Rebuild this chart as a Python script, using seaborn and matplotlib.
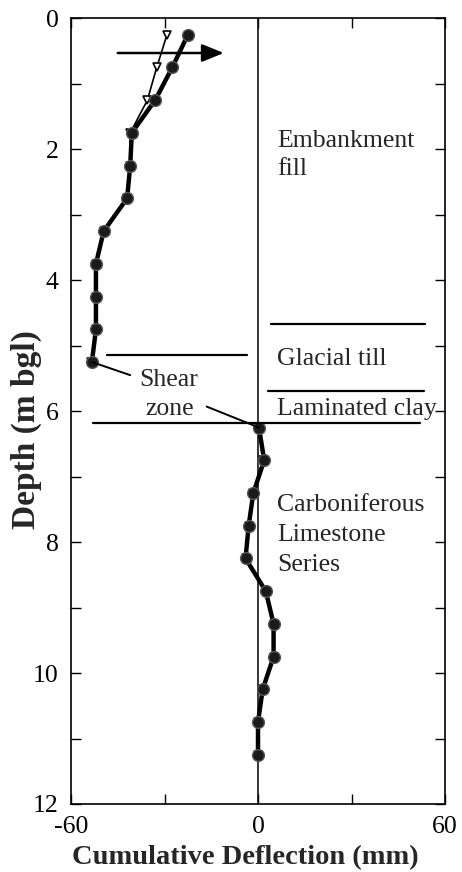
import numpy as np
import pandas as pd
import matplotlib
matplotlib.use("Agg")
import matplotlib.pyplot as plt
import seaborn as sns
from matplotlib.ticker import MultipleLocator

# Inclinometer readings: depth (m bgl) and cumulative deflection (mm)
depth = [0.25, 0.75, 1.25, 1.75, 2.25, 2.75, 3.25, 3.75, 4.25, 4.75, 5.25,
         6.25, 6.75, 7.25, 7.75, 8.25, 8.75, 9.25, 9.75, 10.25, 10.75, 11.25]
# segment 0 = above shear zone, 1 = below
segment = [0] * 11 + [1] * 11
deflection_early = [-29.2, -32.5, -35.5, -41.0, -41.0, -42.0, -49.5, -52.0, -52.0, -52.0, -53.5,
                    0.3, 1.5, -1.5, -3.0, -4.0, 2.5, 5.0, 5.0, 1.5, 0.0, 0.0]
deflection_late = [-22.5, -27.5, -33.0, -40.5, -41.0, -42.0, -49.5, -52.0, -52.0, -52.0, -53.3,
                   0.3, 2.0, -1.5, -3.0, -4.0, 2.5, 5.0, 5.0, 1.5, 0.0, 0.0]

x_ticks = [-60, 0, 60]
y_ticks = [0, 2, 4, 6, 8, 10, 12]

# Strata boundaries: (depth, x_start, x_end)
boundaries = [(4.67, 4.2, 53.6), (5.15, -48.5, -3.5), (5.69, 3.2, 53.3), (6.18, -53.0, 52.0)]
strata = [("Embankment\nfill", 2.09, 1.35), ("Glacial till", 5.2, 1.0),
          ("Laminated clay", 5.97, 1.0), ("Carboniferous\nLimestone\nSeries", 7.89, 1.45)]

df = pd.DataFrame({"depth": depth, "segment": segment,
                   "early": deflection_early, "late": deflection_late})

sns.set_theme(style="ticks")
plt.rcParams["font.family"] = ["Liberation Serif", "DejaVu Serif"]

fig = plt.figure(figsize=(4.62, 8.72), dpi=100)
ax = fig.add_axes([0.1537, 0.078, 0.8095, 0.901])

# earlier reading: thin line with open markers
sns.lineplot(data=df, x="early", y="depth", units="segment", estimator=None, sort=False,
             orient="y", color="black", lw=1.2, marker="v", markersize=6,
             markerfacecolor="white", markeredgecolor="black", markeredgewidth=1.2, ax=ax)
# latest reading: heavy line with filled markers
sns.lineplot(data=df, x="late", y="depth", units="segment", estimator=None, sort=False,
             orient="y", color="black", lw=3.2, marker="o", markersize=8.5,
             markerfacecolor="#1a1a1a", markeredgecolor="#555555", markeredgewidth=1.0, ax=ax)

ax.axvline(0, color="black", lw=1.1, zorder=1)

for d, x0, x1 in boundaries:
    ax.plot([x0, x1], [d, d], color="black", lw=1.6)

for label, d, ls in strata:
    ax.text(6.2, d, label, fontsize=18.5, va="center", ha="left", linespacing=ls)

# shear zone label with leaders
ax.text(-28.5, 5.74, "Shear\nzone", fontsize=18.5, va="center", ha="center", linespacing=1.4)
ax.plot([deflection_late[10], -41.0], [depth[10], 5.45], color="black", lw=1.4)
ax.plot([-16.5, deflection_late[11]], [5.93, depth[11]], color="black", lw=1.4)

# direction of movement
ax.annotate("", xy=(-11.0, 0.53), xytext=(-45.0, 0.53),
            arrowprops=dict(arrowstyle="-|>,head_length=1.1,head_width=0.45",
                            color="black", lw=1.8, shrinkA=0, shrinkB=0))

ax.set_xlim(-60, 60)
ax.set_ylim(12, 0)
ax.set_xticks(x_ticks)
ax.set_yticks(y_ticks)
ax.xaxis.set_minor_locator(MultipleLocator(30))
ax.yaxis.set_minor_locator(MultipleLocator(1))
ax.tick_params(which="both", direction="in", top=True, right=True, labelsize=18.5,
               width=1.0, color="black", labelcolor="black")
ax.tick_params(which="major", length=7, pad=9)
ax.tick_params(which="minor", length=7)
ax.set_xticklabels([str(v) for v in x_ticks])
for s in ax.spines.values():
    s.set_linewidth(1.2)
    s.set_color("black")

ax.set_xlabel("Cumulative Deflection (mm)", fontsize=20.5, fontweight="bold")
ax.set_ylabel("Depth (m bgl)", fontsize=24, fontweight="bold")
ax.xaxis.set_label_coords(0.465, -0.052)
ax.yaxis.set_label_coords(-0.078, 0.477)

fig.savefig("out.png", dpi=100, facecolor="white")
